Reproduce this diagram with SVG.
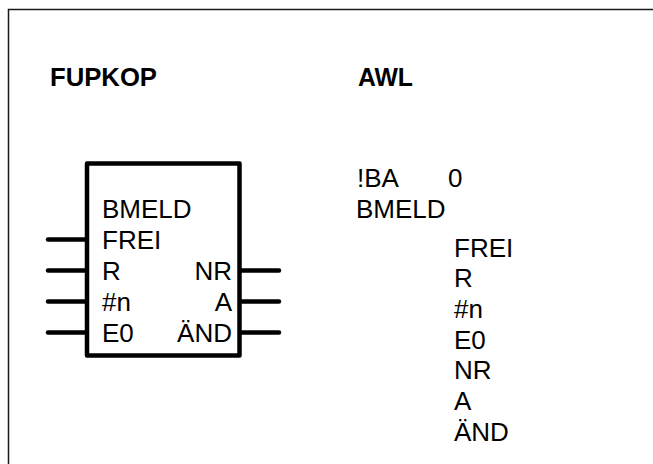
<svg xmlns="http://www.w3.org/2000/svg" width="653" height="464" viewBox="0 0 653 464">
<style>
.frame{fill:none;stroke:#1a1a1a;stroke-width:1.5}
.box{fill:#fff;stroke:#000;stroke-width:4.5;stroke-linejoin:round}
.pin{stroke:#000;stroke-width:4.5;stroke-linecap:round}
.t{font-family:"Liberation Sans",Arial,sans-serif;font-size:26px;fill:#000}
.h{font-family:"Liberation Sans",Arial,sans-serif;font-size:25px;font-weight:bold;fill:#000}
.r{text-anchor:end}
</style>
<rect class="frame" x="8.5" y="9.5" width="700" height="500"/>
<g id="headers">
<text class="h" x="50" y="85.5" textLength="107" lengthAdjust="spacingAndGlyphs">FUPKOP</text>
<text class="h" x="358" y="85.5" textLength="55" lengthAdjust="spacingAndGlyphs">AWL</text>
</g>
<g id="connectors">
<line class="pin" x1="48" y1="239.5" x2="87" y2="239.5"/>
<line class="pin" x1="48" y1="270.5" x2="87" y2="270.5"/>
<line class="pin" x1="48" y1="301.5" x2="87" y2="301.5"/>
<line class="pin" x1="48" y1="332.5" x2="87" y2="332.5"/>
<line class="pin" x1="240" y1="270.5" x2="279" y2="270.5"/>
<line class="pin" x1="240" y1="301.5" x2="279" y2="301.5"/>
<line class="pin" x1="240" y1="332.5" x2="279" y2="332.5"/>
</g>
<g id="block">
<rect class="box" x="87" y="163.5" width="152.5" height="192"/>
<text class="t" x="102" y="217.5">BMELD</text>
<text class="t" x="102" y="248.5">FREI</text>
<text class="t" x="102" y="279.5">R</text>
<text class="t" x="102" y="310.5">#n</text>
<text class="t" x="102" y="341.5">E0</text>
<text class="t r" x="232" y="279.5">NR</text>
<text class="t r" x="232" y="310.5">A</text>
<text class="t r" x="232" y="341.5">ÄND</text>
</g>
<g id="awl">
<text class="t" x="357" y="186.5">!BA</text>
<text class="t" x="448" y="186.5">0</text>
<text class="t" x="356" y="217.5">BMELD</text>
<text class="t" x="454" y="256.5">FREI</text>
<text class="t" x="454" y="287.2">R</text>
<text class="t" x="454" y="317.9">#n</text>
<text class="t" x="454" y="348.6">E0</text>
<text class="t" x="454" y="379.3">NR</text>
<text class="t" x="454" y="410">A</text>
<text class="t" x="454" y="440.7">ÄND</text>
</g>
</svg>
